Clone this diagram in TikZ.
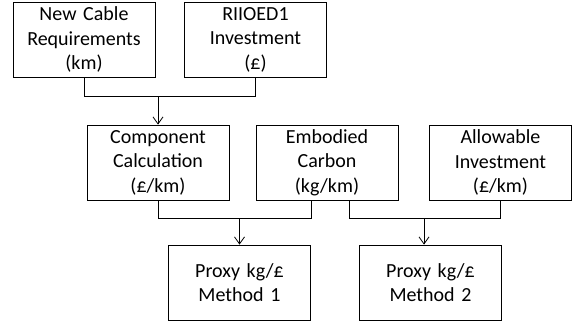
\documentclass[tikz,border=0pt]{standalone}
\usepackage{fontspec}
\setmainfont{Carlito}
\usetikzlibrary{arrows.meta}
\newcommand\boxw{142pt}
\newcommand\boxh{75pt}
\newcommand\joinA{96}
\newcommand\joinB{218}

\tikzset{
  databox/.style={draw,line width=0.8pt,minimum width=\boxw,minimum height=\boxh,
    inner sep=0pt,text width=\boxw,align=center,font=\fontsize{20}{24.5}\selectfont},
  link/.style={line width=0.8pt},
  feed/.style={link,-{Straight Barb[length=7pt,width=10pt]}},
}

\begin{document}
\begin{tikzpicture}[x=1pt,y=-1pt]
    \useasboundingbox (0,0) rectangle (572,324);

    % inputs
    \node[databox] (cable) at (84,39.5) {New Cable\\ Requirements\\ (km)};
    \node[databox] (riio) at (255.5,39.5) {RIIOED1\\ Investment\\ (£)};

    % intermediate values
    \node[databox] (component) at (158,162.5) {Component\\ Calculation\\ (£/km)};
    \node[databox] (carbon) at (327,162.5) {Embodied\\ Carbon\\ (kg/km)};
    \node[databox] (allowable) at (500.5,162.5) {Allowable\\ Investment\\ (£/km)};

    % results
    \node[databox] (method1) at (239.5,282.5) {Proxy kg/£\\ Method 1};
    \node[databox] (method2) at (430.5,282.5) {Proxy kg/£\\ Method 2};

    \coordinate (topjoin) at (component.north |- 0,\joinA);
    \draw[link] (cable.south) -- (cable.south |- topjoin) -- (riio.south |- topjoin) -- (riio.south);
    \draw[feed] (topjoin) -- (component.north);

    \coordinate (carbonL) at ([xshift=-16pt]carbon.south);
    \coordinate (carbonR) at ([xshift=22pt]carbon.south);
    \coordinate (join1) at (method1.north |- 0,\joinB);
    \coordinate (join2) at ([xshift=-6.5pt]method2.north |- 0,\joinB);

    \draw[link] (component.south) -- (component.south |- join1) -- (carbonL |- join1) -- (carbonL);
    \draw[feed] (join1) -- (method1.north);
    \draw[link] (carbonR) -- (carbonR |- join2) -- (allowable.south |- join2) -- (allowable.south);
    \draw[feed] (join2) -- (join2 |- method2.north);
\end{tikzpicture}
\end{document}
